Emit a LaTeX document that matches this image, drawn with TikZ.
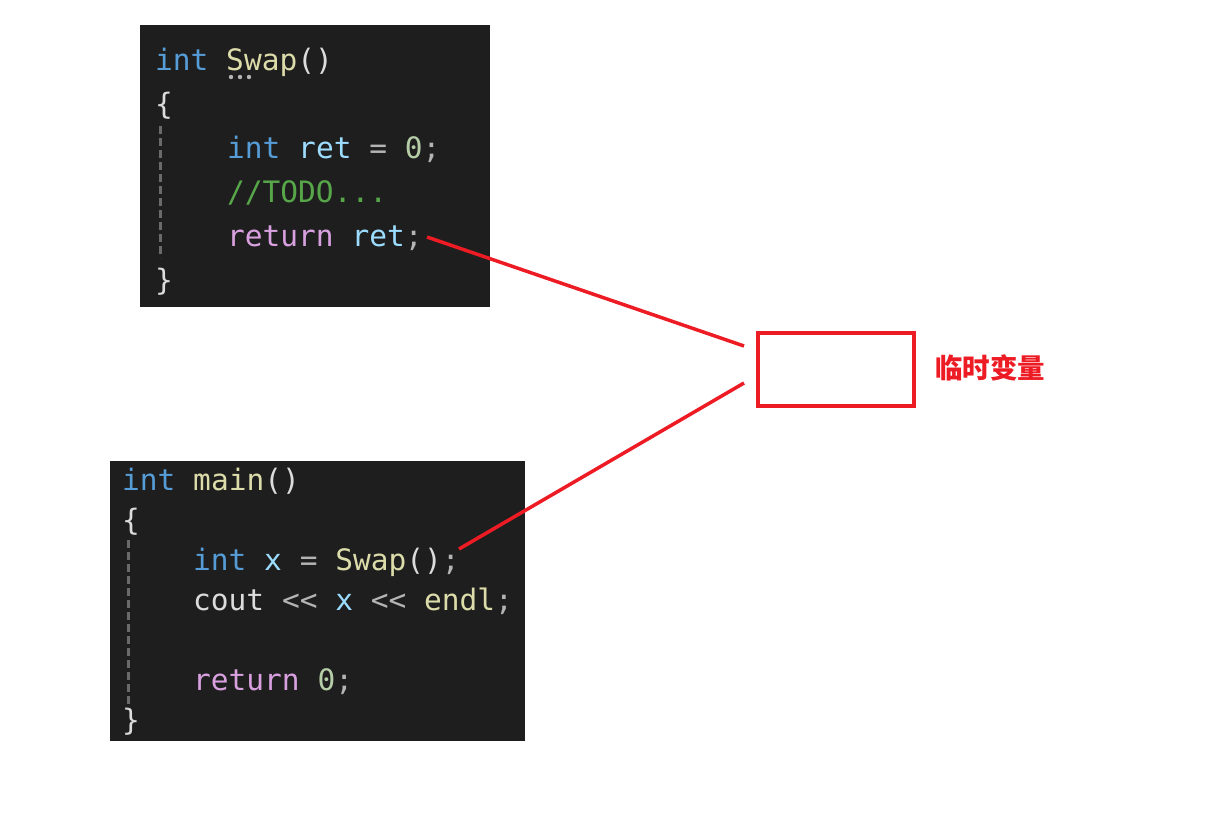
\documentclass[tikz,border=0pt]{standalone}
\usepackage{fontspec}
\setmonofont{DejaVu Sans Mono}
\newfontfamily\cjk{Noto Sans CJK SC}
\definecolor{bg}{HTML}{1E1E1E}
\definecolor{kw}{HTML}{569CD6}
\definecolor{fn}{HTML}{DCDCAA}
\definecolor{var}{HTML}{9CDCFE}
\definecolor{num}{HTML}{B5CEA8}
\definecolor{cmt}{HTML}{57A64A}
\definecolor{ctl}{HTML}{D8A0DF}
\definecolor{pun}{HTML}{B4B4B4}
\definecolor{txt}{HTML}{DCDCDC}
\definecolor{guide}{HTML}{6A6A6A}
\definecolor{redline}{HTML}{ED1C24}
\begin{document}
\begin{tikzpicture}[x=1pt,y=-1pt,
  code/.style={anchor=base west,inner sep=0pt,font=\ttfamily\fontsize{29.5}{30}\selectfont},
  panel/.style={fill=bg,draw=none},
  guideline/.style={draw=guide,line width=3pt,dash pattern=on 8pt off 4pt},
  redconn/.style={draw=redline,line width=3.5pt},
  tmpbox/.style={draw=redline,line width=4pt,minimum width=156pt,minimum height=73pt,inner sep=0pt},
  label/.style={anchor=west,inner sep=0pt,text=redline,font=\cjk\bfseries\fontsize{27.5}{29}\selectfont}]
\path[use as bounding box] (0,0) rectangle (1215,815);
% top panel
\fill[panel] (140,25) rectangle (490,307);
\node[code] (s1) at (155,70) {\color{kw}int \color{fn}Swap\color{txt}()};
\node[code] (s2) at (155,114) {\color{txt}\{};
\node[code] (s3) at (227,158) {\color{kw}int \color{var}ret \color{pun}= \color{num}0\color{pun};};
\node[code] (s4) at (227,202) {\color{cmt}//TODO...};
\node[code] (s5) at (227,246) {\color{ctl}return \color{var}ret\color{pun};};
\node[code] (s6) at (155,290) {\color{txt}\}};
\draw[guideline] (160,126) -- (160,258);
\foreach \dx in {231,240,249} \fill[pun] (\dx,77) circle (2.2pt);
% bottom panel
\fill[panel] (110,461) rectangle (525,741);
\node[code] (m1) at (122,490) {\color{kw}int \color{fn}main\color{txt}()};
\node[code] (m2) at (122,530) {\color{txt}\{};
\node[code] (m3) at (193,570) {\color{kw}int \color{var}x \color{pun}= \color{fn}Swap\color{txt}()\color{pun};};
\node[code] (m4) at (193,610) {\color{txt}cout \color{pun}<< \color{var}x \color{pun}<< \color{fn}endl\color{pun};};
\node[code] (m5) at (193,690) {\color{ctl}return \color{num}0\color{pun};};
\node[code] (m6) at (122,730) {\color{txt}\}};
\draw[guideline] (128,540) -- (128,708);
% temporary box
\node[tmpbox] (tmp) at (836,369.5) {};
\node[label] (lbl) at (935,368) {临时变量};
\coordinate (e1) at (427,237);
\coordinate (e2) at (459,549);
\coordinate (t1) at (744,346);
\coordinate (t2) at (744,383);
\draw[redconn] (e1) -- (t1);
\draw[redconn] (e2) -- (t2);
\end{tikzpicture}
\end{document}
